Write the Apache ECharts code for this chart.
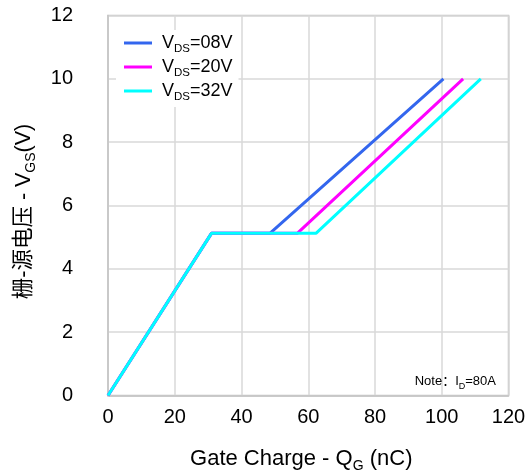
<!DOCTYPE html>
<html><head><meta charset="utf-8">
<script src="https://cdn.jsdelivr.net/npm/echarts@6/dist/echarts.min.js"></script>
<style>html,body{margin:0;padding:0;background:#fff}#c{width:529px;height:470px}</style>
</head><body><div id="c"></div>
<script>
var seriesNames = ['08V', '20V', '32V'];
var seriesColors = ['#3366ee', '#ff00ff', '#00ffff'];
var vds08 = [[0, 0], [31, 5.12], [48.5, 5.12], [100.5, 10]];
var vds20 = [[0, 0], [31, 5.12], [56.7, 5.12], [106.4, 10]];
var vds32 = [[0, 0], [31, 5.12], [62.3, 5.12], [111.7, 10]];
var xTicks = [0, 20, 40, 60, 80, 100, 120];
var yTicks = [0, 2, 4, 6, 8, 10, 12];
var seriesData = [vds08, vds20, vds32];

var FONT = '"Liberation Sans", Arial, "Noto Sans CJK SC", sans-serif';
var chart = echarts.init(document.getElementById('c'), null, {renderer: 'canvas'});
var series = seriesNames.map(function (n, i) {
  return {
    name: 'V_DS=' + n, type: 'line', data: seriesData[i], symbol: 'none',
    lineStyle: {color: seriesColors[i], width: 3}, itemStyle: {color: seriesColors[i]},
    z: 2 + i
  };
});
chart.setOption({
  animation: false,
  backgroundColor: '#fff',
  grid: {left: 108, right: 20.5, top: 15.5, bottom: 74.5, show: true, borderColor: '#c4c4c4', borderWidth: 1.5,
    containLabel: false, outerBoundsMode: 'none'},
  legend: {
    orient: 'vertical', left: 116, top: 30, backgroundColor: '#fff',
    padding: [4, 6, 4, 8], itemGap: 3, itemWidth: 28, itemHeight: 3, icon: 'rect',
    data: series.map(function (s) { return s.name; }),
    formatter: function (name) {
      var v = name.split('=')[1];
      return '{p|}{a|V}{s|DS}{a|=' + v + '}';
    },
    textStyle: {
      fontFamily: FONT, color: '#000',
      rich: {
        p: {width: 5, lineHeight: 20},
        a: {fontSize: 18, fontFamily: FONT, color: '#000', lineHeight: 20},
        s: {fontSize: 11.5, fontFamily: FONT, color: '#000', lineHeight: 20, verticalAlign: 'bottom', padding: [0, 0, -2, 0]}
      }
    }
  },
  xAxis: {
    type: 'value', min: 0, max: 120, interval: 20,
    axisLine: {show: true, lineStyle: {color: '#c4c4c4', width: 1.5}},
    axisTick: {show: false},
    splitLine: {show: true, lineStyle: {color: '#d9d9d9', width: 1.5}},
    axisLabel: {color: '#000', fontSize: 20, fontFamily: FONT, margin: 12,
      formatter: function (v) { return xTicks.indexOf(v) >= 0 ? String(v) : ''; }},
    name: '{a|Gate Charge - Q}{s|G}{a| (nC)}', nameLocation: 'middle', nameGap: 50,
    nameTextStyle: {
      padding: [0, 14, 0, 0],
      rich: {
        a: {fontSize: 22, fontFamily: FONT, color: '#000', lineHeight: 26},
        s: {fontSize: 14, fontFamily: FONT, color: '#000', lineHeight: 26, verticalAlign: 'bottom', padding: [0, 0, -2, 0]}
      }
    }
  },
  yAxis: {
    type: 'value', min: 0, max: 12, interval: 2,
    axisLine: {show: true, lineStyle: {color: '#c4c4c4', width: 1.5}},
    axisTick: {show: false},
    splitLine: {show: true, lineStyle: {color: '#d9d9d9', width: 1.5}},
    axisLabel: {color: '#000', fontSize: 20, fontFamily: FONT, margin: 35,
      formatter: function (v) { return yTicks.indexOf(v) >= 0 ? String(v) : ''; }},
    name: '{a|栅-源电压 - V}{s|GS}{a|(V)}', nameLocation: 'middle', nameGap: 72,
    nameTextStyle: {
      padding: [0, 12, 0, 0],
      rich: {
        a: {fontSize: 21.5, fontFamily: '"Liberation Sans", "Noto Sans CJK SC", sans-serif', color: '#000', lineHeight: 24},
        s: {fontSize: 14, fontFamily: FONT, color: '#000', lineHeight: 24, verticalAlign: 'bottom', padding: [0, 0, -2, 0]}
      }
    }
  },
  graphic: [{
    type: 'text', right: 33, top: 375, z: 10,
    style: {
      text: '{a|Note：}{a|I}{s|D}{a|=80A}',
      rich: {
        a: {fontSize: 13, fontFamily: '"Liberation Sans", "Noto Sans CJK SC", sans-serif', fill: '#000', lineHeight: 16},
        s: {fontSize: 9, fontFamily: FONT, fill: '#000', lineHeight: 16, verticalAlign: 'bottom', padding: [0, 0, -2, 0]}
      }
    }
  }],
  series: series
});
</script></body></html>
